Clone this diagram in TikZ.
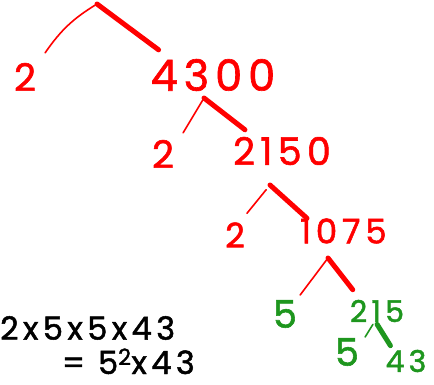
\documentclass[tikz,border=0pt]{standalone}
\usepackage{fontspec}
\setmainfont{Poppins}
\newfontfamily\handfont[LetterSpace=14, FakeBold=1.5]{Poppins}
\definecolor{ftRed}{HTML}{FF0000}
\definecolor{ftGreen}{HTML}{1E961E}

\begin{document}
\begin{tikzpicture}[x=1pt,y=-1pt,
    num/.style={inner sep=0pt, text=ftRed, font=\handfont\fontsize{38}{38}\selectfont},
    bignum/.style={num, font=\handfont\fontsize{43}{43}\selectfont},
    smallnum/.style={num, font=\handfont\fontsize{34}{34}\selectfont},
    leaf/.style={num, text=ftGreen},
    smallleaf/.style={num, text=ftGreen, font=\handfont\fontsize{30}{30}\selectfont},
    result/.style={inner sep=0pt, font=\handfont\fontsize{32}{32}\selectfont},
    twig/.style={line width=1.6pt, line cap=round},
    limb/.style={line width=5pt, line cap=round}]
    \useasboundingbox (0,0) rectangle (434,385);
    % tree
    \coordinate (top) at (97,4);
    \node[num] (two1) at (25,77) {2};
    \node[bignum] (n4300) at (213,75) {4300};
    \coordinate (fork1) at (204,98);
    \node[num] (two2) at (163,154) {2};
    \node[num] (n2150) at (282,151) {2150};
    \coordinate (fork2) at (270,185);
    \node[smallnum] (two3) at (235,235) {2};
    \node[smallnum, anchor=west] (n1075) at (300,231) {1075};
    \coordinate (fork3) at (328,258);
    \node[leaf] (five1) at (285,314) {5};
    \node[smallleaf] (n215) at (377,311) {215};
    \coordinate (fork4) at (375,321);
    \node[leaf] (five2) at (347,352) {5};
    \node[smallleaf] (n43) at (406,361) {43};
    \draw[twig, ftRed] (top) to[bend right=12] ([shift={(9,-10)}]two1.north east);
    \draw[limb, ftRed] (top) -- ([shift={(8,-9)}]n4300.north west);
    \draw[twig, ftRed] (fork1) -- ([shift={(9,-7)}]two2.north east);
    \draw[limb, ftRed] (fork1) -- ([shift={(12,-7)}]n2150.north west);
    \draw[twig, ftRed, shorten <=6pt] (fork2) -- ([shift={(2,-9)}]two3.north east);
    \draw[limb, ftRed] (fork2) -- ([shift={(7,0)}]n1075.north west);
    \draw[twig, ftRed] (fork3) -- ([shift={(3,-5)}]five1.north east);
    \draw[limb, ftRed] (fork3) -- ([shift={(3,-10)}]n215.north west);
    \draw[twig, ftGreen, shorten <=4pt] (fork4) -- ([shift={(6,-1)}]five2.north east);
    \draw[limb, ftGreen, shorten <=4pt] (fork4) -- ([shift={(5,-4)}]n43.north west);
    % working
    \node[result, anchor=west] (line1) at (0,328) {2x5x5x43};
    \node[result, anchor=base east] (line2) at (195,374) {= 5\textsuperscript{2}x43};
\end{tikzpicture}
\end{document}
